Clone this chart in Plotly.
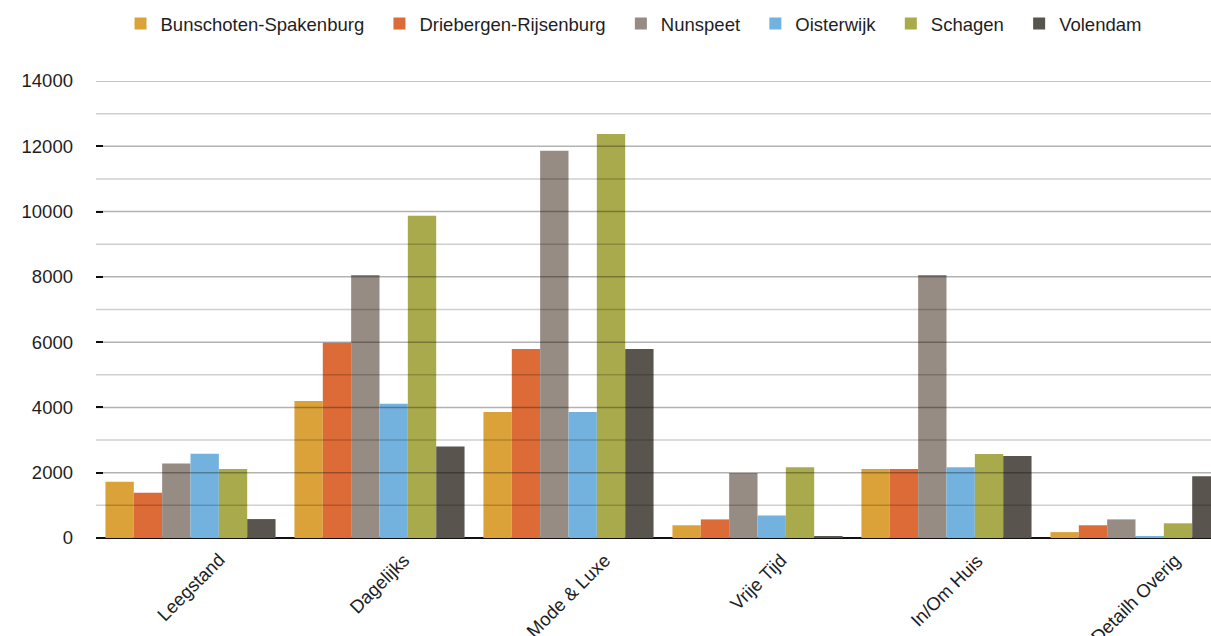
import plotly.graph_objects as go

categories = ["Leegstand", "Dagelijks", "Mode & Luxe", "Vrije Tijd", "In/Om Huis", "Detailh Overig"]

bunschoten = [1720, 4200, 3860, 390, 2110, 180]
driebergen = [1390, 5980, 5790, 570, 2110, 390]
nunspeet = [2280, 8060, 11860, 1990, 8060, 570]
oisterwijk = [2580, 4110, 3860, 690, 2170, 60]
schagen = [2110, 9870, 12380, 2170, 2570, 450]
volendam = [580, 2800, 5790, 50, 2510, 1890]

series_names = ["Bunschoten-Spakenburg", "Driebergen-Rijsenburg", "Nunspeet",
                "Oisterwijk", "Schagen", "Volendam"]
series_values = [bunschoten, driebergen, nunspeet, oisterwijk, schagen, volendam]
series_colors = ["#DBA23A", "#DC6B37", "#968C83", "#73B2DF", "#A9AA4C", "#59554E"]

y_ticks = [0, 2000, 4000, 6000, 8000, 10000, 12000, 14000]

FONT = "Liberation Sans, Arial, Helvetica, sans-serif"
TEXT = "#1e1e1e"
FS = 18.5

fig = go.Figure()
for name, vals, col in zip(series_names, series_values, series_colors):
    fig.add_trace(go.Bar(
        x=categories, y=vals, name=name + "\u00a0\u00a0",
        marker=dict(color=col, line=dict(width=0)),
    ))

# horizontal rules drawn over the bars (major every 2000, minor in between)
shapes = []
for v in range(1000, 14001, 1000):
    major = v % 2000 == 0
    shapes.append(dict(
        type="line", xref="paper", yref="y", x0=0, x1=1, y0=v, y1=v,
        layer="above",
        line=dict(color="rgba(0,0,0,0.30)" if major else "rgba(0,0,0,0.19)", width=1.5),
    ))

# category labels, rotated about their centre
annotations = []
for c in categories:
    annotations.append(dict(
        x=c, xref="x", y=0, yref="paper", yshift=-9,
        text=c, showarrow=False, textangle=-45,
        xanchor="center", yanchor="top",
        font=dict(family=FONT, size=FS, color=TEXT),
    ))

plot_left = 96
plot_w = 1211 - plot_left
cat_px = 189

fig.update_layout(
    width=1211, height=636,
    margin=dict(l=plot_left, r=0, t=81, b=98, autoexpand=False),
    paper_bgcolor="white", plot_bgcolor="white",
    barmode="group", bargap=0.1, bargroupgap=0,
    font=dict(family=FONT, size=FS, color=TEXT),
    showlegend=True,
    legend=dict(
        orientation="h", x=0.022, xanchor="left", y=1.125, yanchor="middle",
        font=dict(family=FONT, size=FS, color=TEXT),
        itemclick=False, bgcolor="rgba(0,0,0,0)",
    ),
    xaxis=dict(
        range=[-0.5, plot_w / cat_px - 0.5],
        showticklabels=False, ticks="", showgrid=False,
        showline=False, zeroline=False, fixedrange=True,
    ),
    yaxis=dict(
        range=[0, 14000], tickvals=y_ticks,
        ticktext=[str(v) for v in y_ticks],
        ticks="inside", ticklen=7, tickwidth=2, tickcolor="#111",
        ticklabelstandoff=22,
        showgrid=False, showline=False,
        zeroline=True, zerolinecolor="#111", zerolinewidth=2,
        tickfont=dict(family=FONT, size=FS, color=TEXT),
        fixedrange=True,
    ),
    shapes=shapes,
    annotations=annotations,
)

fig.write_html("out.html")
